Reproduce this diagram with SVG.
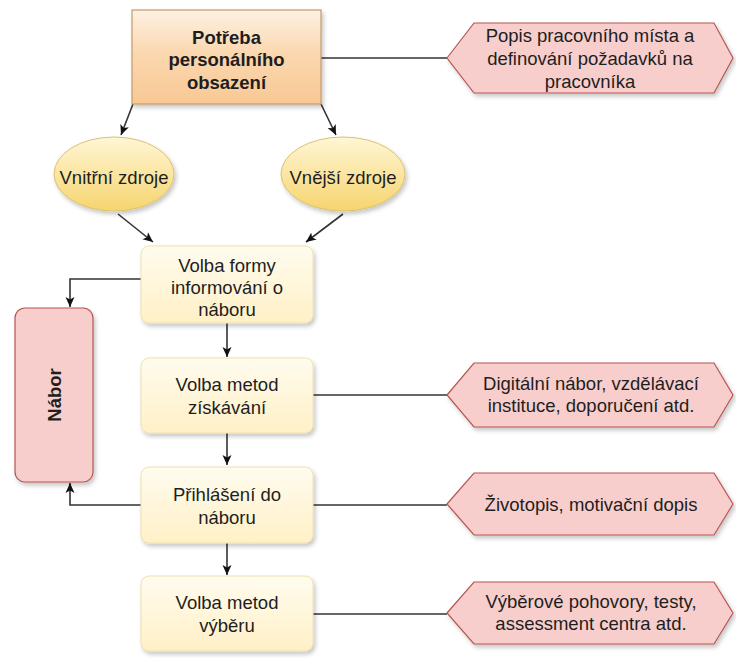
<svg xmlns="http://www.w3.org/2000/svg" width="736" height="658" viewBox="0 0 736 658">
<defs>
  <linearGradient id="gOrange" x1="0" y1="0" x2="0" y2="1">
    <stop offset="0" stop-color="#fdf1e4"/>
    <stop offset="0.45" stop-color="#fbd8b0"/>
    <stop offset="1" stop-color="#f8c894"/>
  </linearGradient>
  <linearGradient id="gEllipse" x1="0" y1="0" x2="0" y2="1">
    <stop offset="0" stop-color="#fff6d6"/>
    <stop offset="1" stop-color="#f6d56e"/>
  </linearGradient>
  <linearGradient id="gBox" x1="0" y1="0" x2="0" y2="1">
    <stop offset="0" stop-color="#fffcef"/>
    <stop offset="1" stop-color="#fff0c6"/>
  </linearGradient>
  <filter id="shadow" x="-10%" y="-10%" width="130%" height="140%">
    <feDropShadow dx="2" dy="3" stdDeviation="2.2" flood-color="#000" flood-opacity="0.22"/>
  </filter>
  <marker id="arrow" viewBox="0 0 10 10" refX="10" refY="5" markerWidth="10" markerHeight="10" markerUnits="userSpaceOnUse" orient="auto">
    <path d="M0,0.5 L10,5 L0,9.5 L2.5,5 Z" fill="#111"/>
  </marker>
</defs>
<style>
  text { font-family: "Liberation Sans", Arial, sans-serif; font-size: 18.5px; fill: #1e1e1e; text-anchor: middle; }
  .bold { font-weight: bold; }
  .top { fill: url(#gOrange); stroke: #c49a6c; stroke-width: 1.2; filter: url(#shadow); }
  .ell { fill: url(#gEllipse); stroke: #dcc070; stroke-width: 1; filter: url(#shadow); }
  .box { fill: url(#gBox); stroke: #efe0b0; stroke-width: 1; filter: url(#shadow); }
  .hex { fill: #f8cecc; stroke: #b85450; stroke-width: 1.2; filter: url(#shadow); }
  .nabor { fill: #f8cecc; stroke: #b85450; stroke-width: 1.2; filter: url(#shadow); }
  .conn { fill: none; stroke: #333; stroke-width: 1.6; }
  .arr { marker-end: url(#arrow); }
</style>
<rect width="736" height="658" fill="#ffffff"/>

<g id="connectors">
  <path class="conn arr" d="M133,104 L121,135"/>
  <path class="conn arr" d="M321,104 L336,135"/>
  <path class="conn arr" d="M118,214 L153,242"/>
  <path class="conn arr" d="M343,214 L306,242"/>
  <path class="conn arr" d="M141,279 H70 V307"/>
  <path class="conn arr" d="M227,323 V357"/>
  <path class="conn arr" d="M227,433 V465"/>
  <path class="conn arr" d="M227,543 V575"/>
  <path class="conn arr" d="M141,505 H70 V483"/>
  <path class="conn" d="M321,58 H447"/>
  <path class="conn" d="M313,395 H447"/>
  <path class="conn" d="M313,505 H447"/>
  <path class="conn" d="M313,614 H447"/>
</g>

<g id="potreba">
  <rect class="top" x="132" y="10" width="189" height="94"/>
  <text class="bold" x="226.5" y="43.5">Potřeba</text>
  <text class="bold" x="226.5" y="66">personálního</text>
  <text class="bold" x="226.5" y="88.5">obsazení</text>
</g>

<g id="popis">
  <polygon class="hex" points="447,58 474,23 714,23 733,58 714,93 474,93"/>
  <text x="590" y="41.5">Popis pracovního místa a</text>
  <text x="590" y="64.5">definování požadavků na</text>
  <text x="590" y="88">pracovníka</text>
</g>

<g id="vnitrni">
  <ellipse class="ell" cx="114" cy="174" rx="60" ry="37"/>
  <text x="114" y="183.5">Vnitřní zdroje</text>
</g>

<g id="vnejsi">
  <ellipse class="ell" cx="343" cy="174" rx="62" ry="37"/>
  <text x="343" y="183.5">Vnější zdroje</text>
</g>

<g id="volba-formy">
  <rect class="box" x="141" y="246" width="172" height="77" rx="8"/>
  <text x="227" y="271.5">Volba formy</text>
  <text x="227" y="293.5">informování o</text>
  <text x="227" y="315.5">náboru</text>
</g>

<g id="nabor">
  <rect class="nabor" x="15" y="308" width="78" height="174" rx="10"/>
  <text class="bold" transform="translate(54,395) rotate(-90)" x="0" y="6.5">Nábor</text>
</g>

<g id="volba-metod-ziskavani">
  <rect class="box" x="141" y="358" width="172" height="75" rx="8"/>
  <text x="227" y="391">Volba metod</text>
  <text x="227" y="413.5">získávání</text>
</g>

<g id="digitalni">
  <polygon class="hex" points="447,395 474,363 714,363 733,395 714,427 474,427"/>
  <text x="591" y="389.5">Digitální nábor, vzdělávací</text>
  <text x="591" y="411.5">instituce, doporučení atd.</text>
</g>

<g id="prihlaseni">
  <rect class="box" x="141" y="467" width="172" height="76" rx="8"/>
  <text x="227" y="501">Přihlášení do</text>
  <text x="227" y="524">náboru</text>
</g>

<g id="zivotopis">
  <polygon class="hex" points="447,504 474,473 714,473 733,504 714,535 474,535"/>
  <text x="591" y="510.5">Životopis, motivační dopis</text>
</g>

<g id="volba-metod-vyberu">
  <rect class="box" x="141" y="576" width="172" height="75" rx="8"/>
  <text x="227" y="609">Volba metod</text>
  <text x="227" y="632">výběru</text>
</g>

<g id="vyberove">
  <polygon class="hex" points="447,613 474,582 714,582 733,613 714,644 474,644"/>
  <text x="591" y="607.5">Výběrové pohovory, testy,</text>
  <text x="591" y="630">assessment centra atd.</text>
</g>
</svg>
